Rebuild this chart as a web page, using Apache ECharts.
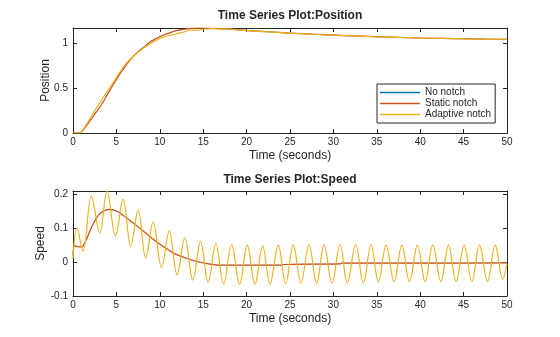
<!DOCTYPE html>
<html>
<head>
<meta charset="utf-8">
<script src="https://cdn.jsdelivr.net/npm/echarts@6/dist/echarts.min.js"></script>
<style>
  html, body { margin: 0; padding: 0; background: #fff; }
  #chart { width: 560px; height: 337px; }
</style>
</head>
<body>
<div id="chart"></div>
<script>
// Series names
const seriesNames = ['No notch', 'Static notch', 'Adaptive notch'];

// Position response, static notch (also no notch)
const posStaticT = [0, 0.8, 1.3, 1.9, 2.5, 3.1, 3.7, 4.2, 4.8, 5.4, 6.0, 6.5, 7.1, 7.7, 8.3, 8.8, 9.4, 10.0, 10.6, 11.2, 12.0, 12.9, 14, 15.5, 17, 18.5, 20, 22.5, 25, 27.5, 30, 32.5, 35, 37.5, 40, 42.5, 45, 47.5, 50];
const posStaticV = [0, 0, 0.05, 0.13, 0.21, 0.29, 0.385, 0.47, 0.565, 0.66, 0.74, 0.805, 0.87, 0.925, 0.97, 1.01, 1.045, 1.075, 1.1, 1.12, 1.145, 1.16, 1.17, 1.17, 1.165, 1.155, 1.145, 1.13, 1.115, 1.103, 1.093, 1.083, 1.075, 1.067, 1.06, 1.056, 1.052, 1.048, 1.045];

// Position response, adaptive notch
const posAdaptT = [0, 0.8, 1.3, 1.9, 2.5, 3.1, 3.7, 4.2, 4.8, 5.4, 6.0, 6.5, 7.1, 7.7, 8.3, 8.8, 9.4, 10.0, 10.6, 11.2, 12.0, 12.9, 13.5, 14.2, 15, 16, 17, 18, 19.2, 20, 22.5, 25, 27.5, 30, 32.5, 35, 37.5, 40, 42.5, 45, 47.5, 50];
const posAdaptV = [0, 0, 0.06, 0.15, 0.25, 0.34, 0.43, 0.5, 0.59, 0.68, 0.76, 0.815, 0.87, 0.915, 0.96, 0.99, 1.025, 1.055, 1.075, 1.09, 1.11, 1.13, 1.15, 1.145, 1.158, 1.165, 1.16, 1.163, 1.148, 1.143, 1.128, 1.115, 1.102, 1.092, 1.083, 1.074, 1.068, 1.06, 1.056, 1.051, 1.048, 1.045];

// Speed response, static notch (also no notch)
const spdStaticT = [0, 0.15, 0.5, 1.0, 1.5, 2.0, 2.5, 3.0, 3.5, 4.2, 5.0, 5.8, 6.9, 8.1, 9.2, 10.4, 11.2, 11.7, 12.9, 14.4, 15.6, 16.9, 20, 24, 24.2, 30.8, 31, 40, 50];
const spdStaticV = [0.02, 0.048, 0.046, 0.045, 0.065, 0.095, 0.121, 0.14, 0.151, 0.156, 0.151, 0.138, 0.116, 0.092, 0.068, 0.046, 0.033, 0.025, 0.013, 0.001, -0.005, -0.009, -0.009, -0.009, -0.007, -0.005, -0.003, -0.003, -0.002];

// Speed response, adaptive notch (peaks and troughs of the oscillation)
const spdAdaptT = [0, 0.46, 1.15, 2.12, 3.08, 3.92, 4.89, 5.77, 6.65, 7.5, 8.38, 9.23, 10.2, 11.08, 12.0, 12.88, 13.8, 14.69, 15.57, 16.46, 17.35, 18.27, 19.19, 20.07, 20.96, 21.85, 22.69, 23.65, 24.5, 25.38, 26.26, 27.19, 28.07, 28.92, 29.84, 30.76, 31.6, 32.57, 33.45, 34.34, 35.18, 36.07, 36.99, 37.88, 38.76, 39.68, 40.57, 41.45, 42.38, 43.26, 44.14, 45.06, 45.95, 46.83, 47.75, 48.64, 49.5, 50];
const spdAdaptV = [0.01, 0.1, 0.033, 0.195, 0.087, 0.21, 0.077, 0.185, 0.048, 0.153, 0.012, 0.118, -0.016, 0.092, -0.037, 0.072, -0.053, 0.061, -0.06, 0.055, -0.065, 0.052, -0.065, 0.05, -0.065, 0.048, -0.065, 0.05, -0.064, 0.051, -0.062, 0.052, -0.062, 0.051, -0.062, 0.052, -0.061, 0.052, -0.061, 0.052, -0.059, 0.05, -0.058, 0.05, -0.058, 0.05, -0.057, 0.05, -0.057, 0.05, -0.057, 0.05, -0.057, 0.05, -0.057, 0.05, -0.05, -0.005];

// Axis ticks
const timeTicks = [0, 5, 10, 15, 20, 25, 30, 35, 40, 45, 50];
const posTicks = [0, 0.5, 1];
const spdTicks = [-0.1, 0, 0.1, 0.2];

const colors = ['#0072BD', '#D95319', '#EDB120'];
const ink = '#262626';
const font = '"Liberation Sans", Arial, Helvetica, sans-serif';

const zip = (t, v) => t.map((x, i) => [x, v[i]]);

function xAxisPair(gridIndex) {
  const common = {
    gridIndex, type: 'value', min: 0, max: 50, interval: 5,
    axisLine: { show: true, onZero: false, lineStyle: { color: ink, width: 1 } },
    axisTick: { show: true, inside: true, length: 4, lineStyle: { color: ink }, customValues: timeTicks },
    splitLine: { show: false }
  };
  return [
    Object.assign({}, common, {
      position: 'bottom',
      name: 'Time (seconds)', nameLocation: 'middle', nameGap: 17, nameMoveOverlap: false,
      nameTextStyle: { color: ink, fontSize: 12, fontFamily: font, verticalAlign: 'top' },
      axisLabel: { color: ink, fontSize: 10, fontFamily: font, margin: 4, customValues: timeTicks }
    }),
    Object.assign({}, common, { position: 'top', axisLabel: { show: false } })
  ];
}

function yAxisPair(gridIndex, min, max, ticks, name, gap) {
  const common = {
    gridIndex, type: 'value', min, max,
    axisLine: { show: true, onZero: false, lineStyle: { color: ink, width: 1 } },
    axisTick: { show: true, inside: true, length: 4, lineStyle: { color: ink }, customValues: ticks },
    splitLine: { show: false }
  };
  return [
    Object.assign({}, common, {
      position: 'left',
      name, nameLocation: 'middle', nameGap: gap, nameMoveOverlap: false,
      nameTextStyle: { color: ink, fontSize: 12, fontFamily: font },
      axisLabel: { color: ink, fontSize: 10, fontFamily: font, margin: 5, customValues: ticks }
    }),
    Object.assign({}, common, { position: 'right', axisLabel: { show: false } })
  ];
}

function line(name, xi, yi, data, color, width, smooth) {
  return {
    name, type: 'line', xAxisIndex: xi, yAxisIndex: yi,
    data, symbol: 'none', smooth: smooth || false,
    lineStyle: { color, width }, itemStyle: { color },
    clip: true
  };
}

const chart = echarts.init(document.getElementById('chart'), null, { renderer: 'canvas' });
chart.setOption({
  animation: false,
  backgroundColor: '#ffffff',
  title: [
    { text: 'Time Series Plot:Position', left: 290, top: 10, textAlign: 'center', padding: 0,
      textStyle: { fontSize: 12, fontWeight: 'bold', color: ink, fontFamily: font } },
    { text: 'Time Series Plot:Speed', left: 290, top: 174, textAlign: 'center', padding: 0,
      textStyle: { fontSize: 12, fontWeight: 'bold', color: ink, fontFamily: font } }
  ],
  grid: [
    { left: 73, top: 28, width: 434, height: 105 },
    { left: 73, top: 191, width: 434, height: 105 }
  ],
  legend: {
    data: seriesNames,
    orient: 'vertical',
    left: 377, top: 84,
    padding: [3, 4, 3, 3],
    itemGap: 0,
    icon: 'rect',
    itemWidth: 40, itemHeight: 1.3,
    backgroundColor: '#ffffff',
    borderColor: ink, borderWidth: 1,
    textStyle: { fontSize: 10, color: ink, fontFamily: font, lineHeight: 11 }
  },
  xAxis: [].concat(xAxisPair(0), xAxisPair(1)),
  yAxis: [].concat(
    yAxisPair(0, 0, 1.172, posTicks, 'Position', 21),
    yAxisPair(1, -0.1, 0.21, spdTicks, 'Speed', 26)
  ),
  series: [
    line(seriesNames[0], 0, 0, zip(posStaticT, posStaticV), colors[0], 0.5, 0.3),
    line(seriesNames[1], 0, 0, zip(posStaticT, posStaticV), colors[1], 1.2, 0.3),
    line(seriesNames[2], 0, 0, zip(posAdaptT, posAdaptV), colors[2], 1.2, 0.3),
    line(seriesNames[0], 2, 2, zip(spdStaticT, spdStaticV), colors[0], 0.5, 0.3),
    line(seriesNames[1], 2, 2, zip(spdStaticT, spdStaticV), colors[1], 1.2, 0.3),
    line(seriesNames[2], 2, 2, zip(spdAdaptT, spdAdaptV), colors[2], 1.2, 0.38)
  ]
});
</script>
</body>
</html>
